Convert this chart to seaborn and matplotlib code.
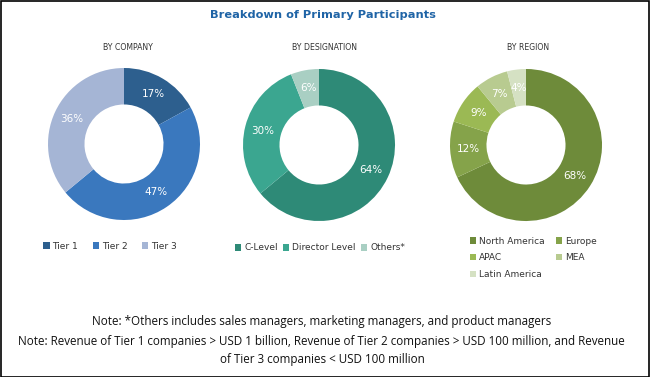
import matplotlib
matplotlib.use("Agg")
import matplotlib.pyplot as plt
import seaborn as sns
import numpy as np
from matplotlib.patches import Rectangle

sns.set_theme(style="white")
plt.rcParams['font.family'] = ['DejaVu Sans']

# data
company_labels = ['Tier 1', 'Tier 2', 'Tier 3']
company_values = [17, 47, 36]
company_colors = ['#2d5f8e', '#3a78be', '#a5b5d5']

designation_labels = ['C-Level', 'Director Level', 'Others*']
designation_values = [64, 30, 6]
designation_colors = ['#2e8a77', '#3ba690', '#a9cfc3']

region_labels = ['North America', 'Europe', 'APAC', 'MEA', 'Latin America']
region_values = [68, 12, 9, 7, 4]
region_colors = ['#6e8b3a', '#85a34a', '#9bb954', '#b8cb90', '#d5e1c3']

W, H = 650, 377
fig = plt.figure(figsize=(6.5, 3.77), dpi=100)
fig.patch.set_facecolor('white')


def px_axes(cx, cy, r):
    return fig.add_axes([(cx - r) / W, 1 - (cy + r) / H, 2 * r / W, 2 * r / H])


def donut(ax, values, colors):
    wedges, _ = ax.pie(values, colors=colors, startangle=90, counterclock=False,
                       radius=1.0, wedgeprops=dict(width=0.48, edgecolor='none'))
    total = sum(values)
    start = 90.0
    for v in values:
        mid = start - 360.0 * v / total / 2
        start -= 360.0 * v / total
        rr = 0.76
        ax.text(rr * np.cos(np.radians(mid)), rr * np.sin(np.radians(mid)), f"{v}%",
                ha='center', va='center', color='white', fontsize=7.5)
    ax.set_xlim(-1, 1)
    ax.set_ylim(-1, 1)
    ax.set_aspect('equal')
    ax.axis('off')
    return wedges


ax1 = px_axes(124, 144, 76)
w1 = donut(ax1, company_values, company_colors)
ax2 = px_axes(319, 145, 76)
w2 = donut(ax2, designation_values, designation_colors)
ax3 = px_axes(526, 145, 76)
w3 = donut(ax3, region_values, region_colors)

fig.text(323 / W, 1 - 15 / H, 'Breakdown of Primary Participants', ha='center', va='center',
         color='#1f64a6', fontsize=8.2, fontweight='bold')
for x, t in [(128, 'BY COMPANY'), (325, 'BY DESIGNATION'), (528, 'BY REGION')]:
    fig.text(x / W, 1 - 48 / H, t, ha='center', va='center', fontsize=6.2,
             color='#333333', fontstretch='condensed')

leg_kw = dict(frameon=False, fontsize=6.5, handlelength=0.7, handleheight=0.7,
              handletextpad=0.3, borderaxespad=0, labelcolor='#333333')
fig.legend(w1, company_labels, loc='center', bbox_to_anchor=(110 / W, 1 - 246 / H),
           ncol=3, columnspacing=1.6, **leg_kw)
fig.legend(w2, designation_labels, loc='center', bbox_to_anchor=(320 / W, 1 - 248 / H),
           ncol=3, columnspacing=0.6, **leg_kw)
# legend fills column by column, reorder so it reads row by row
order = [0, 2, 4, 1, 3]
fig.legend([w3[i] for i in order], [region_labels[i] for i in order], loc='upper left',
           bbox_to_anchor=(466 / W, 1 - 233 / H), ncol=2, columnspacing=1.3,
           labelspacing=0.85, **leg_kw)

note_kw = dict(ha='center', va='center', fontsize=8.4, color='#111111',
               family=['Open Sans', 'DejaVu Sans'])
fig.text(322 / W, 1 - 322 / H,
         'Note: *Others includes sales managers, marketing managers, and product managers', **note_kw)
fig.text(321 / W, 1 - 341 / H,
         'Note: Revenue of Tier 1 companies > USD 1 billion, Revenue of Tier 2 companies > USD 100 million, and Revenue',
         **note_kw)
fig.text(322 / W, 1 - 359 / H, 'of Tier 3 companies < USD 100 million', **note_kw)

fig.patches.append(Rectangle((0.5 / W, 0.5 / H), 1 - 1.5 / W, 1 - 1.5 / H, transform=fig.transFigure,
                             fill=False, edgecolor='black', linewidth=1.2))

fig.savefig('out.png', dpi=100, facecolor='white')
